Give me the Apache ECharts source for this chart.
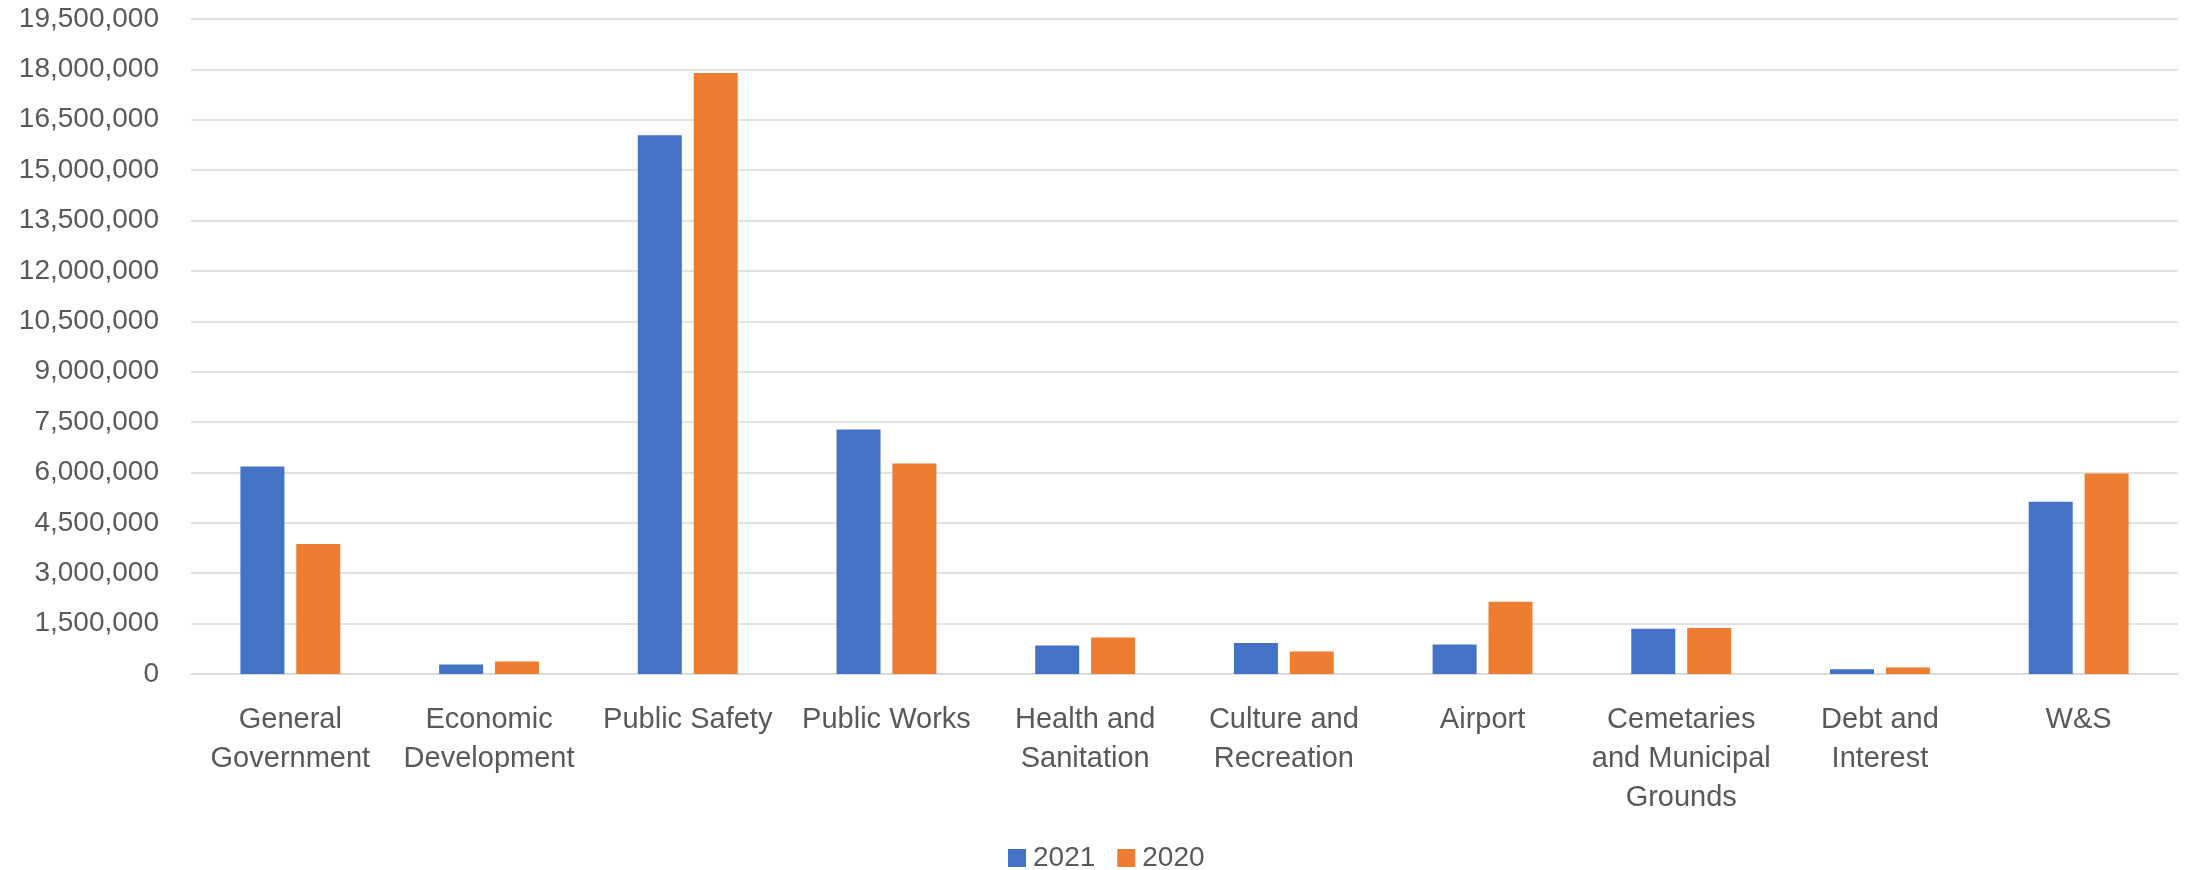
<!DOCTYPE html>
<html>
<head>
<meta charset="utf-8">
<script src="https://cdn.jsdelivr.net/npm/echarts@6/dist/echarts.min.js"></script>
<style>
html,body{margin:0;padding:0;background:#fff;}
#chart{width:2188px;height:870px;}
</style>
</head>
<body>
<div id="chart"></div>
<script>
const categories = ["General Government","Economic Development","Public Safety","Public Works","Health and Sanitation","Culture and Recreation","Airport","Cemetaries and Municipal Grounds","Debt and Interest","W&S"];
const tickLabels = ["General\nGovernment","Economic\nDevelopment","Public Safety","Public Works","Health and\nSanitation","Culture and\nRecreation","Airport","Cemetaries\nand Municipal\nGrounds","Debt and\nInterest","W&S"];
const seriesNames = ["2021","2020"];
const values2021 = [6180000, 280000, 16040000, 7280000, 850000, 920000, 880000, 1350000, 140000, 5130000];
const values2020 = [3870000, 370000, 17890000, 6270000, 1090000, 670000, 2150000, 1370000, 190000, 5970000];

const chart = echarts.init(document.getElementById('chart'), null, {renderer:'canvas'});
const font = '"Liberation Sans", Arial, sans-serif';
chart.setOption({
  animation:false,
  textStyle:{fontFamily:font},
  color:['#4472c4','#ed7d31'],
  grid:{left:191,right:10,top:19,bottom:196,containLabel:false},
  legend:{
    data:seriesNames,
    left:1003,
    top:839,
    itemWidth:18,itemHeight:18,itemGap:22,
    icon:'rect',
    textStyle:{fontSize:28,color:'#595959',fontFamily:font,padding:[0,0,0,2]}
  },
  xAxis:{
    type:'category',
    data:categories,
    axisLine:{lineStyle:{color:'#d9d9d9',width:1.5}},
    axisTick:{show:false},
    axisLabel:{
      interval:0,
      color:'#595959',
      fontSize:29,
      lineHeight:39,
      margin:26,
      formatter:function(v,i){return tickLabels[i];}
    }
  },
  yAxis:{
    type:'value',
    min:0,max:19500000,interval:1500000,
    axisLine:{show:false},
    axisTick:{show:false},
    splitLine:{lineStyle:{color:'#d9d9d9',width:1.5}},
    axisLabel:{
      color:'#595959',fontSize:28,margin:32,
      formatter:function(v){return v.toLocaleString('en-US');}
    }
  },
  series:[
    {name:seriesNames[0],type:'bar',data:values2021,barWidth:44,barGap:'27%'},
    {name:seriesNames[1],type:'bar',data:values2020,barWidth:44,barGap:'27%'}
  ]
});
</script>
</body>
</html>
